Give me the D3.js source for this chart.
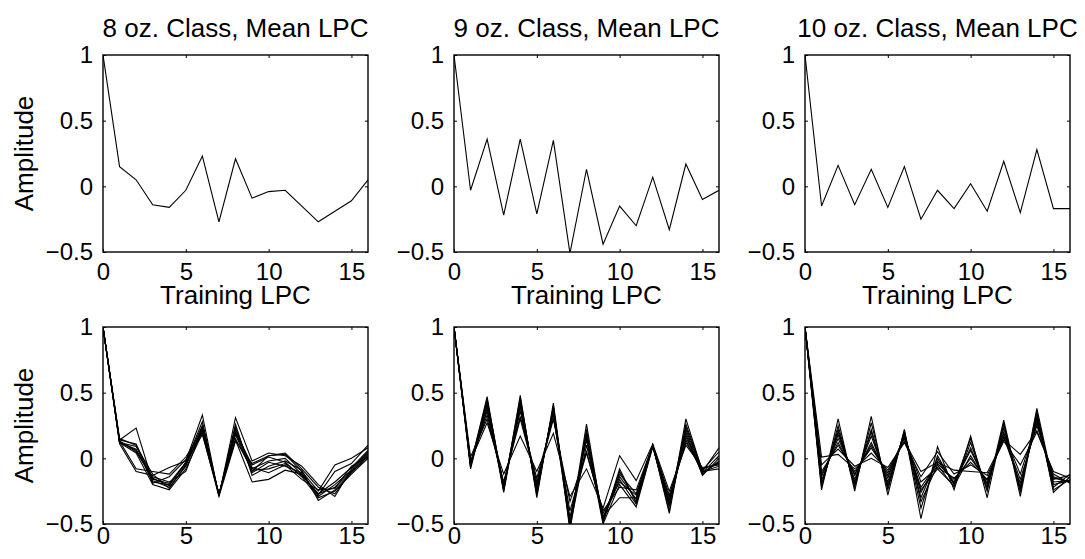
<!DOCTYPE html>
<html>
<head>
<meta charset="utf-8">
<script src="https://d3js.org/d3.v7.min.js"></script>
<style>
  body { margin: 0; background: #fff; }
  text { font-family: Arial, "Liberation Sans", sans-serif; fill: #000; }
</style>
</head>
<body>
<div id="chart"></div>
<script>
// ===== LPC coefficient index 0..16 =====
var lpcIndex = d3.range(0, 17);
var xTicks = [0, 5, 10, 15];
var yTicks = [-0.5, 0, 0.5, 1];
var yTickLabels = ["\u22120.5", "0", "0.5", "1"];

var topTitles = ["8 oz. Class, Mean LPC", "9 oz. Class, Mean LPC", "10 oz. Class, Mean LPC"];
var bottomTitle = "Training LPC";
var yLabel = "Amplitude";

// mean LPC per class
var mean8 = [1, 0.15, 0.05, -0.14, -0.16, -0.03, 0.23, -0.27, 0.21, -0.09, -0.04, -0.03, -0.15, -0.27, -0.19, -0.11, 0.05];
var mean9 = [1, -0.03, 0.36, -0.22, 0.36, -0.21, 0.35, -0.51, 0.13, -0.44, -0.15, -0.30, 0.07, -0.33, 0.17, -0.10, -0.03];
var mean10 = [1, -0.15, 0.16, -0.14, 0.13, -0.16, 0.15, -0.25, -0.03, -0.17, 0.02, -0.19, 0.19, -0.20, 0.28, -0.17, -0.17];

// training LPC, 8 oz
var train8 = [
  [1, 0.13, 0.05, -0.15, -0.21, -0.03, 0.25, -0.28, 0.22, -0.08, -0.02, 0.00, -0.12, -0.27, -0.22, -0.10, 0.03],
  [1, 0.14, 0.23, -0.18, -0.20, -0.04, 0.20, -0.27, 0.18, -0.10, 0.02, 0.03, -0.10, -0.25, -0.05, 0.00, 0.08],
  [1, 0.12, 0.09, -0.12, -0.23, -0.05, 0.22, -0.28, 0.20, -0.05, 0.01, -0.03, -0.14, -0.30, -0.25, -0.12, 0.00],
  [1, 0.11, -0.10, -0.13, -0.07, -0.02, 0.33, -0.29, 0.31, -0.02, 0.04, 0.02, -0.06, -0.20, -0.29, -0.08, 0.05],
  [1, 0.15, 0.10, -0.19, -0.14, -0.01, 0.18, -0.27, 0.14, -0.18, -0.16, -0.09, -0.12, -0.28, -0.10, -0.04, 0.10],
  [1, 0.12, 0.07, -0.17, -0.22, -0.06, 0.24, -0.28, 0.26, -0.13, -0.06, -0.02, -0.09, -0.32, -0.24, -0.11, 0.02],
  [1, 0.13, -0.08, -0.10, -0.12, 0.01, 0.21, -0.27, 0.15, -0.09, -0.08, -0.04, -0.13, -0.27, -0.18, -0.07, 0.06],
  [1, 0.12, 0.04, -0.20, -0.24, -0.08, 0.19, -0.29, 0.13, -0.04, 0.02, 0.04, -0.08, -0.22, -0.27, -0.10, 0.00],
  [1, 0.14, 0.11, -0.16, -0.19, -0.03, 0.28, -0.28, 0.24, -0.11, -0.03, -0.06, -0.11, -0.29, -0.20, -0.09, 0.04],
  [1, 0.13, 0.06, -0.14, -0.18, -0.10, 0.23, -0.28, 0.19, -0.07, -0.11, -0.05, -0.16, -0.24, -0.23, -0.06, 0.01]
];

// training LPC, 9 oz
var train9 = [
  [1, -0.05, 0.47, -0.25, 0.48, -0.30, 0.42, -0.52, 0.26, -0.48, -0.10, -0.33, 0.10, -0.40, 0.30, -0.10, 0.08],
  [1, -0.08, 0.42, -0.26, 0.44, -0.25, 0.38, -0.50, 0.20, -0.46, -0.14, -0.31, 0.10, -0.35, 0.22, -0.11, 0.02],
  [1, 0.01, 0.30, -0.18, 0.30, -0.18, 0.30, -0.33, 0.05, -0.42, -0.18, -0.28, 0.09, -0.30, 0.12, -0.08, -0.04],
  [1, -0.02, 0.27, -0.12, 0.17, -0.10, 0.19, -0.29, -0.08, -0.38, 0.02, -0.17, 0.11, -0.25, 0.10, -0.07, -0.05],
  [1, -0.06, 0.40, -0.22, 0.40, -0.22, 0.36, -0.45, 0.14, -0.50, -0.20, -0.37, 0.09, -0.36, 0.18, -0.12, -0.02],
  [1, -0.04, 0.36, -0.20, 0.36, -0.20, 0.34, -0.52, 0.10, -0.45, -0.12, -0.27, 0.10, -0.32, 0.16, -0.10, -0.06],
  [1, -0.07, 0.45, -0.24, 0.46, -0.28, 0.40, -0.55, 0.22, -0.49, -0.08, -0.34, 0.10, -0.42, 0.26, -0.09, 0.05],
  [1, -0.03, 0.33, -0.19, 0.32, -0.15, 0.31, -0.40, 0.04, -0.40, -0.22, -0.24, 0.10, -0.28, 0.14, -0.11, -0.03],
  [1, -0.05, 0.38, -0.23, 0.39, -0.24, 0.37, -0.48, 0.16, -0.47, -0.16, -0.35, 0.09, -0.37, 0.20, -0.13, 0.00],
  [1, -0.04, 0.44, -0.21, 0.42, -0.26, 0.39, -0.51, 0.18, -0.44, -0.30, -0.30, 0.10, -0.34, 0.24, -0.10, -0.08]
];

// training LPC, 10 oz
var train10 = [
  [1, -0.24, 0.30, -0.25, 0.32, -0.28, 0.22, -0.46, 0.09, -0.24, 0.17, -0.30, 0.27, -0.29, 0.36, -0.26, -0.14],
  [1, -0.20, 0.22, -0.20, 0.22, -0.22, 0.20, -0.38, 0.02, -0.20, 0.15, -0.25, 0.29, -0.26, 0.38, -0.20, -0.17],
  [1, 0.01, 0.03, -0.08, 0.04, -0.09, 0.13, -0.10, -0.03, -0.09, -0.10, -0.11, 0.14, 0.03, 0.21, -0.12, -0.19],
  [1, -0.05, 0.07, -0.06, 0.00, -0.07, 0.12, -0.14, 0.05, -0.12, -0.05, -0.13, 0.13, -0.05, 0.20, -0.10, -0.15],
  [1, -0.17, 0.18, -0.16, 0.17, -0.18, 0.18, -0.26, -0.02, -0.18, 0.06, -0.20, 0.20, -0.22, 0.30, -0.18, -0.17],
  [1, -0.22, 0.25, -0.22, 0.27, -0.24, 0.21, -0.33, -0.05, -0.22, 0.12, -0.24, 0.26, -0.24, 0.34, -0.22, -0.12],
  [1, -0.10, 0.10, -0.10, 0.08, -0.11, 0.16, -0.18, -0.07, -0.15, -0.03, -0.16, 0.17, -0.16, 0.25, -0.14, -0.18],
  [1, -0.14, 0.15, -0.13, 0.12, -0.15, 0.17, -0.24, -0.08, -0.21, 0.02, -0.19, 0.19, -0.12, 0.28, -0.16, -0.13],
  [1, -0.19, 0.20, -0.18, 0.20, -0.20, 0.19, -0.30, 0.00, -0.19, 0.08, -0.22, 0.23, -0.23, 0.32, -0.24, -0.16],
  [1, -0.12, 0.12, -0.12, 0.10, -0.13, 0.15, -0.22, -0.04, -0.16, 0.00, -0.17, 0.16, -0.19, 0.27, -0.15, -0.18]
];

var W = 1085, H = 559;
var svg = d3.select("#chart").append("svg")
    .attr("width", W)
    .attr("height", H)

var colLeft = [103, 454, 805];
var plotW = 265;
var rowTop = [55, 327];
var plotH = 197;

// one axes box, matlab style
function panel(col, row, seriesList, title, showYLabel, id){
    var x0 = colLeft[col], y0 = rowTop[row];
    var g = svg.append("g").attr("transform", "translate(" + x0 + "," + y0 + ")")
    var x = d3.scaleLinear().domain([0, 16]).range([0, plotW])
    var y = d3.scaleLinear().domain([-0.5, 1]).range([plotH, 0])

    g.append("clipPath").attr("id", "clip" + id)
      .append("rect").attr("width", plotW).attr("height", plotH)

    var line = d3.line()
        .x(function(d, i){ return x(lpcIndex[i]) })
        .y(function(d){ return y(d) })

    g.append("g").attr("clip-path", "url(#clip" + id + ")")
      .selectAll("path").data(seriesList).enter().append("path")
        .attr("d", line)
        .attr("fill", "none")
        .attr("stroke", "#000")
        .attr("stroke-width", 1.1)
        .attr("stroke-linejoin", "miter")

    var fmtY = function(d){ return yTickLabels[yTicks.indexOf(d)] }

    var bottom = g.append("g").attr("transform", "translate(0," + plotH + ")")
      .call(d3.axisBottom(x).tickValues(xTicks).tickSize(-3).tickPadding(row == 0 ? 11 : 3))
    var top = g.append("g")
      .call(d3.axisTop(x).tickValues(xTicks).tickSize(-3).tickFormat(""))
    var left = g.append("g")
      .call(d3.axisLeft(y).tickValues(yTicks).tickSize(-3).tickPadding(10).tickFormat(fmtY))
    var right = g.append("g").attr("transform", "translate(" + plotW + ",0)")
      .call(d3.axisRight(y).tickValues(yTicks).tickSize(-3).tickFormat(""))

    ;[bottom, top, left, right].forEach(function(a){
        a.select(".domain").remove()
        a.selectAll("line").attr("stroke", "#000").attr("stroke-width", 1)
        a.selectAll("text").attr("font-size", "24px").attr("font-family", null).attr("fill", "#000")
    })

    g.append("rect")
      .attr("width", plotW).attr("height", plotH)
      .attr("fill", "none").attr("stroke", "#000").attr("stroke-width", 1.4)

    g.append("text")
      .text(title)
      .attr("x", plotW / 2)
      .attr("y", row == 0 ? -18 : -23)
      .attr("text-anchor", "middle")
      .attr("font-size", "26px")

    if (showYLabel){
        g.append("text")
          .text(yLabel)
          .attr("transform", "translate(" + (-70) + "," + (plotH / 2) + ") rotate(-90)")
          .attr("text-anchor", "middle")
          .attr("font-size", "26px")
    }
}

panel(0, 0, [mean8], topTitles[0], true, "a")
panel(1, 0, [mean9], topTitles[1], false, "b")
panel(2, 0, [mean10], topTitles[2], false, "c")
panel(0, 1, train8, bottomTitle, true, "d")
panel(1, 1, train9, bottomTitle, false, "e")
panel(2, 1, train10, bottomTitle, false, "f")
</script>
</body>
</html>
